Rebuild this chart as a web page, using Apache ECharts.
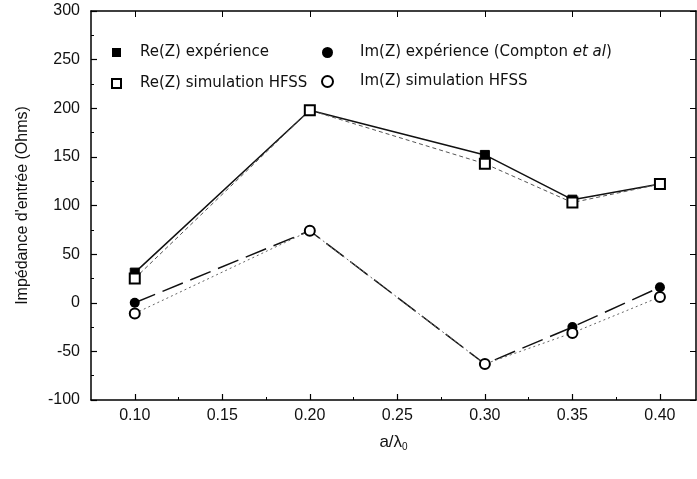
<!DOCTYPE html>
<html>
<head>
<meta charset="utf-8">
<script src="https://cdn.jsdelivr.net/npm/echarts@6/dist/echarts.min.js"></script>
<style>html,body{margin:0;padding:0;background:#fff}#c{width:697px;height:479px}</style>
</head>
<body>
<div id="c"></div>
<script>
var xValues = [0.10, 0.20, 0.30, 0.35, 0.40];
var reExp = [31, 198, 152, 106, 122];
var reSim = [25, 198, 143, 103, 122];
var imExp = [0, 74, -63, -25, 16];
var imSim = [-11, 74, -63, -31, 6];
var xTickLabels = [0.10, 0.15, 0.20, 0.25, 0.30, 0.35, 0.40];
var xMinorTicks = [0.10, 0.125, 0.15, 0.175, 0.20, 0.225, 0.25, 0.275, 0.30, 0.325, 0.35, 0.375, 0.40];
var seriesNames = ['Re(Z) expérience', 'Re(Z) simulation HFSS', 'Im(Z) expérience (Compton et al)', 'Im(Z) simulation HFSS'];

function pairs(ys){ return xValues.map(function(x,i){ return [x, ys[i]]; }); }

var font = 'Liberation Sans, Arial, Helvetica, sans-serif';
var lfont = 'DejaVu Sans, sans-serif';
var chart = echarts.init(document.getElementById('c'), null, {renderer:'canvas'});
var axisLine = {show:true, onZero:false, lineStyle:{color:'#000', width:1.5}};
chart.setOption({
  animation:false,
  backgroundColor:'#fff',
  grid:{left:91, right:1, top:11, bottom:79, containLabel:false},
  xAxis:[{
    type:'value', min:0.075, max:0.4206, position:'bottom',
    name:'{a|a/λ}{s|0}', nameLocation:'middle', nameGap:32,
    nameTextStyle:{rich:{a:{fontFamily:font, fontSize:17, color:'#111'}, s:{fontFamily:font, fontSize:10, color:'#111', padding:[10,0,0,0]}}},
    axisLine:axisLine,
    axisTick:{show:true, inside:true, length:6, customValues:xTickLabels, lineStyle:{color:'#000', width:1.2}},
    axisLabel:{customValues:xTickLabels, margin:8, fontFamily:font, fontSize:16, color:'#111', formatter:function(v){return v.toFixed(2);}},
    splitLine:{show:false}
  },{
    type:'value', min:0.075, max:0.4206, position:'top',
    axisLine:axisLine,
    axisTick:{show:true, inside:true, length:6, customValues:xTickLabels, lineStyle:{color:'#000'}},
    axisLabel:{show:false}, splitLine:{show:false}
  },{
    type:'value', min:0.075, max:0.4206, position:'bottom',
    axisLine:{show:false, onZero:false},
    axisTick:{show:true, inside:true, length:3, customValues:xMinorTicks, lineStyle:{color:'#000'}},
    axisLabel:{show:false}, splitLine:{show:false}
  }],
  yAxis:[{
    type:'value', min:-100, max:300, interval:50, position:'left',
    name:"Impédance d'entrée (Ohms)", nameLocation:'middle', nameGap:60,
    nameTextStyle:{fontFamily:font, fontSize:16, color:'#111'},
    axisLine:axisLine,
    axisTick:{show:true, inside:true, length:6, lineStyle:{color:'#000', width:1.2}},
    minorTick:{show:true, splitNumber:2, length:3, lineStyle:{color:'#000'}},
    axisLabel:{margin:11, fontFamily:font, fontSize:16, color:'#111'},
    splitLine:{show:false}
  },{
    type:'value', min:-100, max:300, interval:50, position:'right',
    axisLine:axisLine,
    axisTick:{show:true, inside:true, length:6, lineStyle:{color:'#000'}},
    axisLabel:{show:false}, splitLine:{show:false}
  }],
  legend:[{
    data:[{name:seriesNames[0], icon:'rect'},{name:seriesNames[1], icon:'emptyRect'}],
    orient:'vertical', left:106, top:40, itemWidth:9, itemHeight:9, itemGap:16,
    textStyle:{fontFamily:lfont, fontSize:15, color:'#111', padding:[0,0,0,14]}
  },{
    data:[{name:seriesNames[2], icon:'circle'},{name:seriesNames[3], icon:'emptyCircle'}],
    orient:'vertical', left:316, top:40, itemWidth:11, itemHeight:11, itemGap:14,
    formatter:function(n){ return n.indexOf('Compton')>=0 ? 'Im(Z) expérience (Compton {i|et al})' : n; },
    textStyle:{fontFamily:lfont, fontSize:15, color:'#111', padding:[0,0,0,22], rich:{i:{fontFamily:lfont, fontStyle:'italic', fontSize:15, color:'#111'}}}
  }],
  series:[{
    name:seriesNames[0], type:'line', data:pairs(reExp), symbol:'rect', symbolSize:9,
    itemStyle:{color:'#000', borderColor:'#000'}, lineStyle:{color:'#111', width:1.5, type:'solid'}, z:4
  },{
    name:seriesNames[1], type:'line', data:pairs(reSim), symbol:'emptyRect', symbolSize:10,
    itemStyle:{color:'#000', borderColor:'#000', borderWidth:1.5}, lineStyle:{color:'#555', width:1, type:[4,3]}, z:5
  },{
    name:seriesNames[2], type:'line', data:pairs(imExp), symbol:'circle', symbolSize:10,
    itemStyle:{color:'#000'}, lineStyle:{color:'#111', width:1.5, type:[22,8]}, z:4
  },{
    name:seriesNames[3], type:'line', data:pairs(imSim), symbol:'emptyCircle', symbolSize:10,
    itemStyle:{color:'#000', borderColor:'#000', borderWidth:1.5}, lineStyle:{color:'#666', width:1, type:[2,3]}, z:5
  }]
});
</script>
</body>
</html>
